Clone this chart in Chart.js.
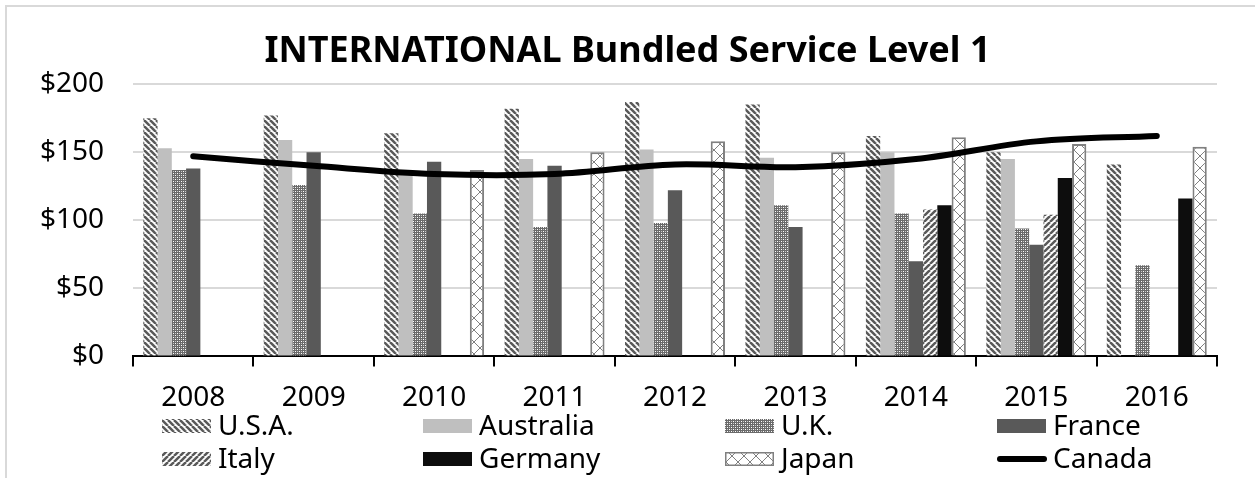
<!DOCTYPE html>
<html>
<head>
<meta charset="utf-8">
<script src="https://cdn.jsdelivr.net/npm/chart.js@4"></script>
<style>
  html, body { margin: 0; padding: 0; background: #fff; }
  #wrap { position: relative; width: 1255px; height: 478px; }
</style>
</head>
<body>
<div id="wrap"><canvas id="chart" width="1255" height="478"></canvas></div>
<script>
const years = ['2008', '2009', '2010', '2011', '2012', '2013', '2014', '2015', '2016'];
const usa = [175, 177, 164, 182, 187, 185, 162, 150, 141];
const australia = [153, 159, 135, 145, 152, 146, 150, 145, null];
const uk = [137, 126, 105, 95, 98, 111, 105, 94, 67];
const france = [138, 150, 143, 140, 122, 95, 70, 82, null];
const italy = [null, null, null, null, null, null, 108, 104, null];
const germany = [null, null, null, null, null, null, 111, 131, 116];
const japan = [null, null, 137, 150, 158, 150, 161, 156, 154];
const canada = [147, 140, 134, 134, 141, 139, 145, 158, 162];
const yTicks = [0, 50, 100, 150, 200];

function stripes(dir, size, color, width) {
    const c = document.createElement('canvas');
    c.width = c.height = size;
    const g = c.getContext('2d');
    g.fillStyle = '#fff';
    g.fillRect(0, 0, size, size);
    g.strokeStyle = color;
    g.lineWidth = width;
    for (let k = -1; k <= 1; k++) {
        g.beginPath();
        if (dir > 0) { g.moveTo(k * size, 0); g.lineTo(k * size + size, size); }
        else { g.moveTo(k * size, size); g.lineTo(k * size + size, 0); }
        g.stroke();
    }
    return g.createPattern(c, 'repeat');
}

function dots() {
    const c = document.createElement('canvas');
    c.width = c.height = 4;
    const g = c.getContext('2d');
    g.fillStyle = '#6a6a6a';
    g.fillRect(0, 0, 4, 4);
    g.fillStyle = '#fff';
    [[1, 1], [3, 3]].forEach(p => g.fillRect(p[0], p[1], 1, 1));
    g.fillStyle = '#c8c8c8';
    [[1, 3], [3, 1]].forEach(p => g.fillRect(p[0], p[1], 1, 1));
    return g.createPattern(c, 'repeat');
}

function trellis() {
    const c = document.createElement('canvas');
    c.width = c.height = 12;
    const g = c.getContext('2d');
    g.fillStyle = '#fff';
    g.fillRect(0, 0, 12, 12);
    g.strokeStyle = '#808080';
    g.lineWidth = 1;
    g.beginPath();
    g.moveTo(0, 0); g.lineTo(12, 12);
    g.moveTo(12, 0); g.lineTo(0, 12);
    g.stroke();
    return g.createPattern(c, 'repeat');
}

const usaFill = stripes(1, 6, '#595959', 2.5);
const italyFill = stripes(-1, 6, '#595959', 2.5);
const ukFill = dots();
const japanFill = trellis();

function bar(label, data, fill, extra) {
    return Object.assign({
        type: 'bar', label: label, data: data, backgroundColor: fill,
        borderWidth: 0, order: 1
    }, extra || {});
}

const datasets = [
    bar('U.S.A.', usa, usaFill),
    bar('Australia', australia, '#bfbfbf'),
    bar('U.K.', uk, ukFill),
    bar('France', france, '#595959'),
    bar('Italy', italy, italyFill),
    bar('Germany', germany, '#0d0d0d'),
    bar('Japan', japan, japanFill, { borderColor: '#808080', borderWidth: 2 }),
    {
        type: 'line', label: 'Canada', data: canada, borderColor: '#000',
        borderWidth: 6, pointRadius: 0, tension: 0.35, borderCapStyle: 'round',
        fill: false, order: 0
    }
];

// legend drawn in 4 fixed columns like the original
const legendPlugin = {
    id: 'gridLegend',
    afterDraw(chart) {
        const ctx = chart.ctx;
        const cols = [162, 423, 725, 997];
        const rows = [426, 459];
        ctx.save();
        ctx.font = '28px "Noto Sans"';
        ctx.textBaseline = 'middle';
        ctx.fillStyle = '#000';
        chart.data.datasets.forEach((ds, i) => {
            const x = cols[i % 4];
            const y = rows[Math.floor(i / 4)];
            if (ds.type === 'line') {
                ctx.strokeStyle = '#000';
                ctx.lineWidth = 6;
                ctx.lineCap = 'round';
                ctx.beginPath();
                ctx.moveTo(x + 3, y);
                ctx.lineTo(x + 47, y);
                ctx.stroke();
            } else {
                ctx.fillStyle = ds.backgroundColor;
                ctx.fillRect(x, y - 7, 49, 14);
                if (ds.borderWidth) {
                    ctx.strokeStyle = ds.borderColor;
                    ctx.lineWidth = 1.5;
                    ctx.strokeRect(x + 0.75, y - 6.25, 47.5, 12.5);
                }
            }
            ctx.fillStyle = '#000';
            ctx.fillText(ds.label, x + 56, y + 1);
        });
        ctx.restore();
    }
};

const framePlugin = {
    id: 'frame',
    beforeDraw(chart) {
        const ctx = chart.ctx;
        ctx.save();
        ctx.fillStyle = '#fff';
        ctx.fillRect(0, 0, chart.width, chart.height);
        ctx.strokeStyle = '#d9d9d9';
        ctx.lineWidth = 2;
        ctx.strokeRect(6, 6, chart.width + 20, chart.height + 20);
        ctx.restore();
    }
};

new Chart(document.getElementById('chart'), {
    data: { labels: years, datasets: datasets },
    plugins: [framePlugin, legendPlugin],
    options: {
        responsive: false,
        animation: false,
        layout: { padding: { left: 0, right: 0, top: 0, bottom: 48 } },
        datasets: { bar: { categoryPercentage: 0.83, barPercentage: 1.0 } },
        plugins: {
            legend: { display: false },
            tooltip: { enabled: false },
            title: {
                display: true,
                text: 'INTERNATIONAL Bundled Service Level 1',
                font: { family: '"Noto Sans"', size: 36, weight: 'bold' },
                color: '#000',
                padding: { top: 30, bottom: 11 }
            }
        },
        scales: {
            x: {
                grid: {
                    offset: true, drawOnChartArea: false, drawTicks: true,
                    tickLength: 10, color: '#000', lineWidth: 2
                },
                border: { display: true, color: '#000', width: 2 },
                ticks: {
                    color: '#000', padding: 15,
                    font: { family: '"Noto Sans"', size: 28 }
                }
            },
            y: {
                min: 0, max: 200,
                afterFit(scale) { scale.width = 133; },
                afterBuildTicks(scale) { scale.ticks = yTicks.map(v => ({ value: v })); },
                grid: { color: '#d9d9d9', lineWidth: 2, drawTicks: false },
                border: { display: false },
                ticks: {
                    color: '#000', padding: 29,
                    font: { family: '"Noto Sans"', size: 28 },
                    callback: v => '$' + v
                }
            },
            // empty right axis keeps the right margin without shifting the title
            yRight: {
                position: 'right', display: true,
                afterFit(scale) { scale.width = 38; },
                grid: { display: false },
                border: { display: false },
                ticks: { display: false }
            }
        }
    }
});
</script>
</body>
</html>
